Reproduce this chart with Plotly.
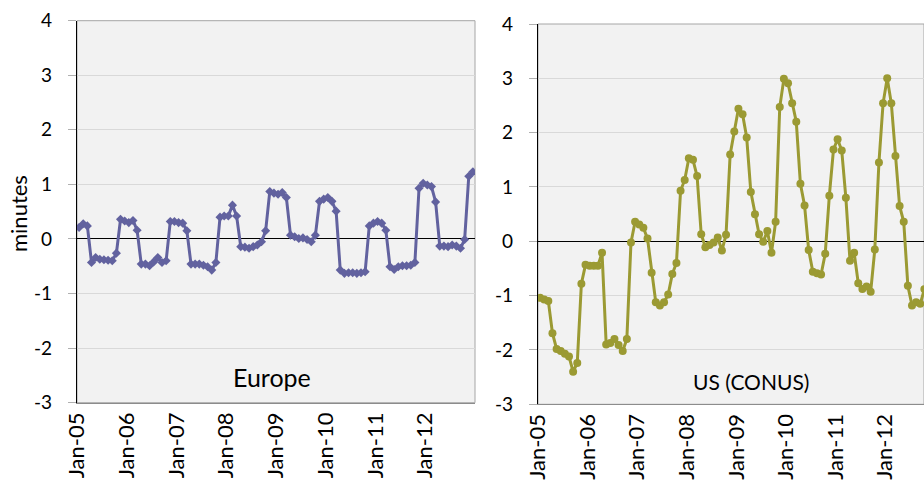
import plotly.graph_objects as go

# ---- data ----
tick_labels = ["Jan-05", "Jan-06", "Jan-07", "Jan-08", "Jan-09", "Jan-10", "Jan-11", "Jan-12"]
y_ticks = [-3, -2, -1, 0, 1, 2, 3, 4]
y_tick_text = ["-3", "-2", "-1", "0", "1", "2", "3", "4"]

europe = [
    0.21, 0.28, 0.24, -0.43, -0.34, -0.37, -0.38, -0.39, -0.40, -0.26, 0.36, 0.33,
    0.30, 0.34, 0.16, -0.46, -0.46, -0.49, -0.42, -0.34, -0.43, -0.40, 0.32, 0.32,
    0.30, 0.29, 0.15, -0.46, -0.46, -0.46, -0.48, -0.51, -0.57, -0.43, 0.40, 0.42,
    0.42, 0.62, 0.42, -0.14, -0.15, -0.17, -0.14, -0.11, -0.05, 0.15, 0.87, 0.84,
    0.82, 0.85, 0.76, 0.07, 0.04, 0.01, 0.02, -0.01, -0.05, 0.07, 0.69, 0.73,
    0.76, 0.69, 0.51, -0.57, -0.63, -0.62, -0.62, -0.63, -0.62, -0.60, 0.24, 0.29,
    0.32, 0.29, 0.16, -0.51, -0.56, -0.51, -0.49, -0.49, -0.48, -0.43, 0.93, 1.02,
    0.99, 0.96, 0.68, -0.13, -0.13, -0.14, -0.11, -0.13, -0.17, -0.01, 1.15, 1.23,
]

us_conus = [
    -1.04, -1.07, -1.10, -1.69, -1.98, -2.02, -2.07, -2.12, -2.40, -2.24, -0.78, -0.43,
    -0.45, -0.45, -0.45, -0.21, -1.90, -1.87, -1.80, -1.91, -2.02, -1.80, -0.02, 0.36,
    0.31, 0.25, 0.05, -0.58, -1.12, -1.18, -1.12, -0.98, -0.60, -0.40, 0.93, 1.13,
    1.53, 1.50, 1.20, 0.13, -0.11, -0.07, -0.02, 0.07, -0.17, 0.12, 1.60, 2.02,
    2.44, 2.34, 1.91, 0.91, 0.50, 0.13, -0.01, 0.19, -0.21, 0.36, 2.47, 2.99,
    2.91, 2.54, 2.20, 1.06, 0.66, -0.16, -0.56, -0.59, -0.61, -0.23, 0.84, 1.69,
    1.88, 1.67, 0.80, -0.36, -0.21, -0.77, -0.88, -0.83, -0.93, -0.15, 1.45, 2.54,
    3.00, 2.54, 1.57, 0.65, 0.36, -0.82, -1.18, -1.12, -1.15, -0.88,
]

# ---- styling ----
W, H = 924, 481
FONT = "Lato"
EU_COLOR = "#62629F"
US_COLOR = "#9B9A33"
GRID = "#D9D9D9"
BORDER = "#A6A6A6"
TICKC = "#B0B0B0"

tickpos = [-0.5 + 12 * k for k in range(len(tick_labels))]

fig = go.Figure()
fig.add_trace(go.Scatter(
    x=list(range(len(europe))), y=europe, mode="lines+markers",
    line=dict(color=EU_COLOR, width=3),
    marker=dict(symbol="diamond", size=7, color=EU_COLOR),
    xaxis="x", yaxis="y", name="Europe", showlegend=False,
))
fig.add_trace(go.Scatter(
    x=list(range(len(us_conus))), y=us_conus, mode="lines+markers",
    line=dict(color=US_COLOR, width=3),
    marker=dict(symbol="circle", size=8, color=US_COLOR),
    xaxis="x2", yaxis="y2", name="US (CONUS)", showlegend=False,
))

# pixel geometry
L1, R1 = 77, 475
L2 = 538
px_per_month = (R1 - L1) / 96.0
x2_end = -0.5 + (W - L2) / px_per_month + 0.3

def ydom(top, bottom):
    return [(H - bottom) / H, (H - top) / H]

yd1 = ydom(20.7, 402.7)
yd2 = ydom(24.0, 404.3)

common_x = dict(
    tickmode="array", tickvals=tickpos, ticktext=tick_labels, tickangle=-90,
    showgrid=False, zeroline=False, showline=True, linecolor="#8C8C8C", linewidth=1,
    ticks="", tickfont=dict(family=FONT, size=22, color="#000000"),
    mirror=False, automargin=False,
)
common_y = dict(
    range=[-3, 4], tickmode="array", tickvals=y_ticks, ticktext=y_tick_text,
    showgrid=True, gridcolor=GRID, gridwidth=1,
    zeroline=True, zerolinecolor="#000000", zerolinewidth=1.3,
    showline=True, linecolor="#000000", linewidth=1.3,
    ticks="outside", ticklen=8, tickcolor=TICKC,
    tickfont=dict(family=FONT, size=19, color="#000000"),
    ticklabelstandoff=12, automargin=False,
)

fig.update_layout(
    template="none",
    width=W, height=H,
    margin=dict(l=0, r=0, t=0, b=0, pad=0),
    paper_bgcolor="#FFFFFF", plot_bgcolor="#F2F2F2",
    font=dict(family=FONT, color="#000000"),
    xaxis=dict(domain=[L1 / W, R1 / W], range=[-0.5, 95.5], anchor="y", **common_x),
    yaxis=dict(domain=yd1, anchor="x", **common_y),
    xaxis2=dict(domain=[L2 / W, 1.0], range=[-0.5, x2_end], anchor="y2", **common_x),
    yaxis2=dict(domain=yd2, anchor="x2", **common_y),
    # tick marks on the zero line (category axis crossing)
    xaxis3=dict(domain=[L1 / W, R1 / W], range=[-0.5, 95.5], overlaying="x",
                anchor="free", position=(H - 239.0) / H, automargin=False,
                tickmode="array", tickvals=tickpos, ticks="outside", ticklen=7,
                tickcolor=TICKC, showticklabels=False, showline=False,
                showgrid=False, zeroline=False),
    xaxis4=dict(domain=[L2 / W, 1.0], range=[-0.5, x2_end], overlaying="x2",
                anchor="free", position=(H - 241.3) / H, automargin=False,
                tickmode="array", tickvals=tickpos, ticks="outside", ticklen=7,
                tickcolor=TICKC, showticklabels=False, showline=False,
                showgrid=False, zeroline=False),
    showlegend=False,
)

# plot-area borders (top / right)
for xr, yr in (("x domain", "y domain"), ("x2 domain", "y2 domain")):
    fig.add_shape(type="rect", xref=xr, yref=yr, x0=0, x1=1, y0=0, y1=1,
                  line=dict(color=BORDER, width=1), fillcolor="rgba(0,0,0,0)",
                  layer="below")

fig.add_annotation(text="minutes", xref="paper", yref="paper",
                   x=18 / W, y=(H - 214) / H, textangle=-90, showarrow=False,
                   xanchor="center", yanchor="middle",
                   font=dict(family=FONT, size=22, color="#000000"))
fig.add_annotation(text="Europe", xref="paper", yref="paper",
                   x=272 / W, y=(H - 377) / H, showarrow=False,
                   xanchor="center", yanchor="middle",
                   font=dict(family=FONT, size=25, color="#000000"))
fig.add_annotation(text="US (CONUS)", xref="paper", yref="paper",
                   x=751 / W, y=(H - 382) / H, showarrow=False,
                   xanchor="center", yanchor="middle",
                   font=dict(family=FONT, size=21, color="#000000"))

fig.write_html(
    "out.html",
    config={"displayModeBar": False},
    post_script="document.body.style.margin='0px';document.body.style.overflow='hidden';",
)
